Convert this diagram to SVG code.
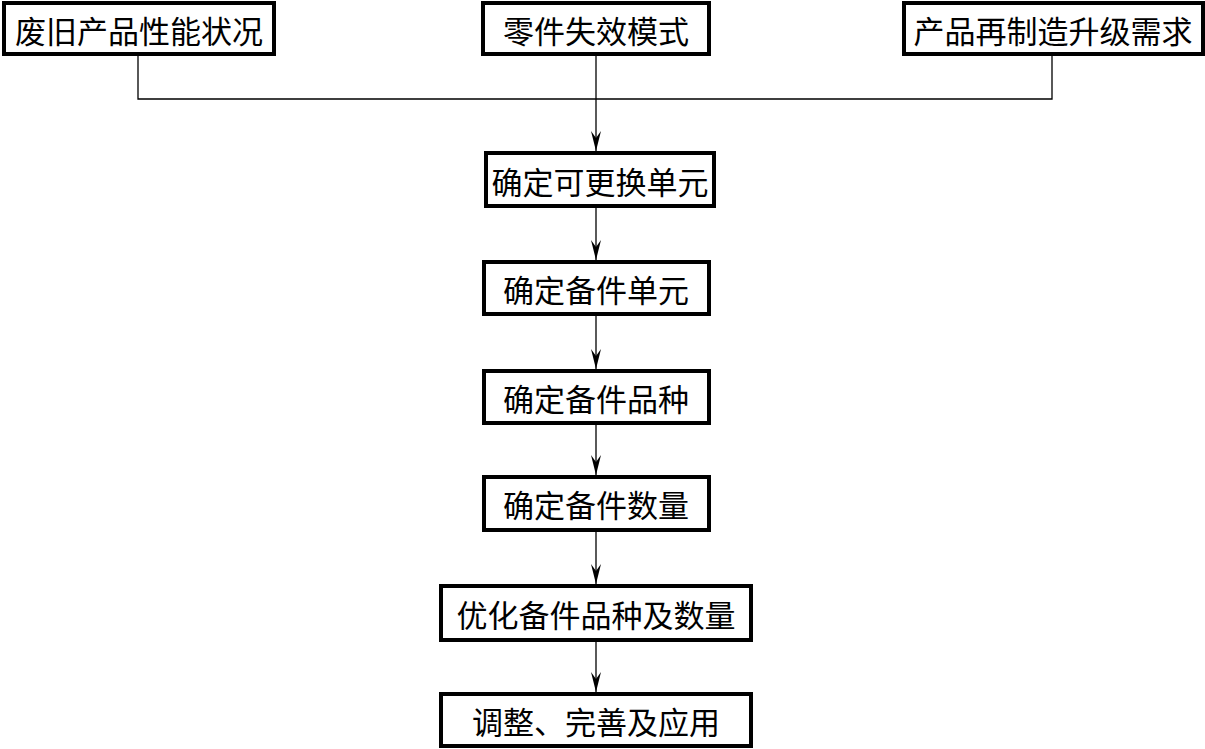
<svg xmlns="http://www.w3.org/2000/svg" width="1205" height="749" viewBox="0 0 1205 749">
<style>
.box{fill:#fff;stroke:#000;stroke-width:4}
.t{font-family:"Noto Sans CJK SC","Noto Sans CJK TC",sans-serif;font-size:31px;fill:#000;text-anchor:middle;dominant-baseline:central}
.c{fill:none;stroke:#000;stroke-width:1.3}
</style>
<defs>
<path id="ah" d="M0,0 L-5,-20 L0,-13 L5,-20 Z" fill="#000"/>
</defs>
<rect width="1205" height="749" fill="#fff"/>
<g id="connectors">
<polyline class="c" points="138,55 138,99 1052,99 1052,55"/>
<line class="c" x1="596" y1="55" x2="596" y2="151"/>
<line class="c" x1="596" y1="207" x2="596" y2="260"/>
<line class="c" x1="596" y1="315" x2="596" y2="369"/>
<line class="c" x1="596" y1="424" x2="596" y2="475"/>
<line class="c" x1="596" y1="531" x2="596" y2="584"/>
<line class="c" x1="596" y1="641" x2="596" y2="692"/>
<use href="#ah" x="596" y="151"/>
<use href="#ah" x="596" y="260"/>
<use href="#ah" x="596" y="369"/>
<use href="#ah" x="596" y="475"/>
<use href="#ah" x="596" y="584"/>
<use href="#ah" x="596" y="692"/>
</g>
<g id="n1"><rect class="box" x="4" y="3" width="270" height="51"/><text class="t" x="139" y="29">废旧产品性能状况</text></g>
<g id="n2"><rect class="box" x="483" y="3" width="226" height="51"/><text class="t" x="596" y="29">零件失效模式</text></g>
<g id="n3"><rect class="box" x="904" y="3" width="299" height="51"/><text class="t" x="1053" y="29">产品再制造升级需求</text></g>
<g id="n4"><rect class="box" x="486" y="153" width="228" height="53"/><text class="t" x="600" y="180">确定可更换单元</text></g>
<g id="n5"><rect class="box" x="484" y="262" width="225" height="52"/><text class="t" x="596" y="288">确定备件单元</text></g>
<g id="n6"><rect class="box" x="484" y="371" width="225" height="52"/><text class="t" x="596" y="397">确定备件品种</text></g>
<g id="n7"><rect class="box" x="484" y="477" width="225" height="53"/><text class="t" x="596" y="503">确定备件数量</text></g>
<g id="n8"><rect class="box" x="441" y="586" width="310" height="54"/><text class="t" x="596" y="613">优化备件品种及数量</text></g>
<g id="n9"><rect class="box" x="441" y="694" width="310" height="52"/><text class="t" x="596" y="720">调整、完善及应用</text></g>
</svg>
